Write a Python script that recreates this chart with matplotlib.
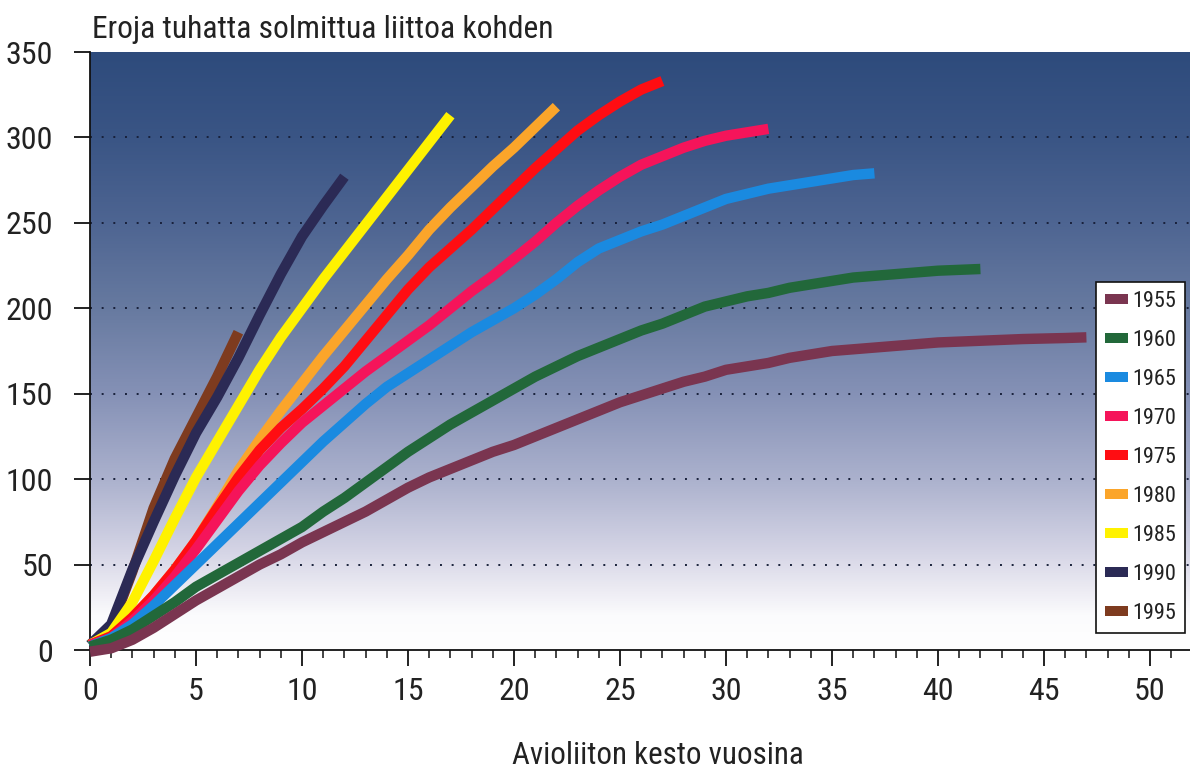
import matplotlib
matplotlib.use("Agg")
import matplotlib.pyplot as plt
import numpy as np
from matplotlib.patches import Patch
from matplotlib.colors import LinearSegmentedColormap

# ---- data ----
cohorts = ["1955", "1960", "1965", "1970", "1975", "1980", "1985", "1990", "1995"]
colors = ["#7a3550", "#22683a", "#1a8ae0", "#f5145a", "#ff0d12",
          "#fba52a", "#fff200", "#2b2a55", "#7e3b1f"]

y1955 = [-1, 1, 6, 13, 21, 29, 36, 43, 50, 56, 63, 69, 75, 81, 88, 95, 101, 106, 111, 116,
         120, 125, 130, 135, 140, 145, 149, 153, 157, 160, 164, 166, 168, 171, 173, 175,
         176, 177, 178, 179, 180, 180.5, 181, 181.5, 182, 182.3, 182.6, 183]
y1960 = [2, 6, 12, 20, 28, 37, 44, 51, 58, 65, 72, 81, 89, 98, 107, 116, 124, 132, 139, 146,
         153, 160, 166, 172, 177, 182, 187, 191, 196, 201, 204, 207, 209, 212, 214, 216,
         218, 219, 220, 221, 222, 222.5, 223]
y1965 = [2, 7, 15, 26, 38, 50, 62, 74, 86, 98, 110, 122, 133, 144, 154, 162, 170, 178, 186,
         193, 200, 208, 217, 227, 235, 240, 245, 249, 254, 259, 264, 267, 270, 272, 274,
         276, 278, 279]
y1970 = [3, 7, 17, 29, 43, 59, 76, 93, 108, 121, 133, 143, 153, 163, 172, 181, 190, 200,
         210, 219, 229, 239, 250, 260, 269, 277, 284, 289, 294, 298, 301, 303, 305]
y1975 = [3, 8, 19, 32, 47, 64, 83, 101, 117, 130, 141, 153, 166, 181, 196, 211, 224, 235,
         246, 258, 270, 282, 293, 304, 313, 321, 328, 333]
y1980 = [3, 8, 19, 32, 47, 64, 84, 105, 123, 140, 156, 172, 187, 202, 217, 231, 246, 259,
         271, 283, 294, 306, 318]
y1985 = [3, 10, 28, 52, 77, 101, 122, 143, 164, 183, 200, 217, 233, 249, 265, 281, 297, 313]
y1990 = [3, 15, 47, 75, 102, 127, 148, 171, 196, 220, 242, 260, 277]
y1995 = [3, 13, 46, 83, 112, 136, 160, 186]

series = [y1955, y1960, y1965, y1970, y1975, y1980, y1985, y1990, y1995]

x_ticks = [0, 5, 10, 15, 20, 25, 30, 35, 40, 45, 50]
y_ticks = [0, 50, 100, 150, 200, 250, 300, 350]
grid_levels = [50, 100, 150, 200, 250, 300]

title = "Eroja tuhatta solmittua liittoa kohden"
xlabel = "Avioliiton kesto vuosina"

# ---- style ----
plt.rcParams["font.family"] = ["Roboto Condensed", "Liberation Sans Narrow", "Noto Sans", "Roboto"]
plt.rcParams["font.stretch"] = "condensed"

W, H = 1190, 776
fig = plt.figure(figsize=(W / 100, H / 100), dpi=100)
fig.patch.set_facecolor("white")

L, R, T, B = 90, 1190, 52, 650
ax = fig.add_axes([L / W, (H - B) / H, (R - L) / W, (B - T) / H])
xmax = (R - L) / 21.2
ax.set_xlim(0, xmax)
ax.set_ylim(0, 350)

# gradient background
stops = [(0, "#ffffff"), (20 / 350, "#fbfbfd"), (35 / 350, "#ecebf3"),
         (60 / 350, "#d2d2e4"), (100 / 350, "#abb1cd"), (150 / 350, "#8591b6"),
         (200 / 350, "#677aa0"), (250 / 350, "#4e6592"), (300 / 350, "#3a5585"),
         (1.0, "#2e4b7c")]
cmap = LinearSegmentedColormap.from_list("bg", stops)
grad = np.linspace(0, 1, 512).reshape(-1, 1)
ax.imshow(grad, cmap=cmap, aspect="auto", origin="lower",
          extent=[0, xmax, 0, 350], zorder=0, interpolation="bilinear")

for g in grid_levels:
    ax.axhline(g, color="#18203a", lw=1.4, ls=(0, (1, 5)), zorder=1)

# lines (draw newest first so older cohorts sit on top)
for name, ys, c in reversed(list(zip(cohorts, series, colors))):
    xs = np.arange(len(ys))
    ax.plot(xs, ys, color=c, lw=7.5, solid_capstyle="butt",
            solid_joinstyle="round", zorder=3, clip_on=False)

# axes style
for s in ["top", "right"]:
    ax.spines[s].set_visible(False)
ax.spines["left"].set_color("#111111")
ax.spines["bottom"].set_color("#111111")
ax.spines["left"].set_linewidth(1.3)
ax.spines["bottom"].set_linewidth(1.3)

ax.set_xticks(x_ticks)
ax.set_xticks(np.arange(0, 52, 1), minor=True)
ax.set_yticks(y_ticks)
ax.tick_params(axis="x", which="major", length=11.5, width=1.3, color="#111111",
               labelsize=23, pad=8, labelcolor="#222222")
ax.tick_params(axis="x", which="minor", length=5.5, width=1.1, color="#111111")
ax.tick_params(axis="y", which="major", length=11.5, width=1.3, color="#111111",
               labelsize=23, pad=15, labelcolor="#222222")
ax.tick_params(axis="y", which="minor", length=0)

fig.text(92 / W, 1 - 30 / H, title, fontsize=22.8, color="#222222",
         ha="left", va="center")
fig.text(658 / W, 1 - 755 / H, xlabel, fontsize=22.3, color="#222222",
         ha="center", va="center")

handles = [Patch(facecolor=c, edgecolor="none", label=n) for n, c in zip(cohorts, colors)]
leg = ax.legend(handles=handles, loc="upper right",
                bbox_to_anchor=((1185 - L) / (R - L), (B - 282) / (B - T)),
                fontsize=16, frameon=True, fancybox=False, framealpha=1,
                edgecolor="#111111", facecolor="white",
                handlelength=1.04, handleheight=0.37, handletextpad=0.2,
                labelspacing=0.81, borderpad=0.4, borderaxespad=0)
leg.get_frame().set_linewidth(1.2)
leg.set_zorder(5)
for t in leg.get_texts():
    t.set_color("#222222")

fig.savefig("out.png", dpi=100)
